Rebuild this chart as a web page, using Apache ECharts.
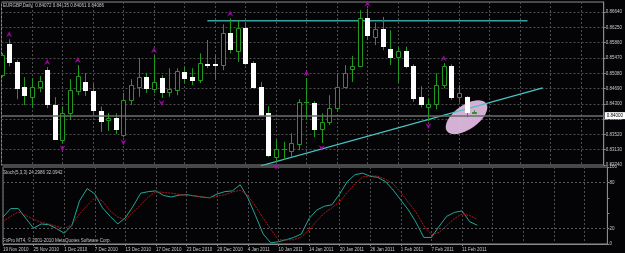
<!DOCTYPE html>
<html>
<head>
<meta charset="utf-8">
<script src="https://cdn.jsdelivr.net/npm/echarts@6/dist/echarts.min.js"></script>
<style>
html,body{margin:0;padding:0;background:#040406;}
#chart{width:625px;height:253px;}
</style>
</head>
<body>
<div id="chart"></div>
<script>
// EURGBP daily, 19 Nov 2010 - 15 Feb 2011
var dates = ['19 Nov 2010','22 Nov 2010','23 Nov 2010','24 Nov 2010','25 Nov 2010','26 Nov 2010',
  '29 Nov 2010','30 Nov 2010','1 Dec 2010','2 Dec 2010','3 Dec 2010',
  '6 Dec 2010','7 Dec 2010','8 Dec 2010','9 Dec 2010','10 Dec 2010',
  '13 Dec 2010','14 Dec 2010','15 Dec 2010','16 Dec 2010','17 Dec 2010',
  '20 Dec 2010','21 Dec 2010','22 Dec 2010','23 Dec 2010','24 Dec 2010',
  '27 Dec 2010','28 Dec 2010','29 Dec 2010','30 Dec 2010','31 Dec 2010',
  '3 Jan 2011','4 Jan 2011','5 Jan 2011','6 Jan 2011','7 Jan 2011',
  '10 Jan 2011','11 Jan 2011','12 Jan 2011','13 Jan 2011','14 Jan 2011',
  '17 Jan 2011','18 Jan 2011','19 Jan 2011','20 Jan 2011','21 Jan 2011',
  '24 Jan 2011','25 Jan 2011','26 Jan 2011','27 Jan 2011','28 Jan 2011',
  '31 Jan 2011','1 Feb 2011','2 Feb 2011','3 Feb 2011','4 Feb 2011',
  '7 Feb 2011','8 Feb 2011','9 Feb 2011','10 Feb 2011','11 Feb 2011',
  '14 Feb 2011','15 Feb 2011'];

var opens = [0.8503,0.8582,0.8537,0.8473,0.8448,0.8474,0.8516,0.8427,0.8338,0.8407,
  0.8463,0.8487,0.8463,0.8412,0.8389,0.8393,0.8351,0.8440,0.8474,0.8498,
  0.8467,0.8495,0.8460,0.8465,0.8512,0.8498,0.8491,0.8533,0.8531,0.8529,
  0.8612,0.8565,0.8624,0.8535,0.8472,0.8407,0.8294,0.8314,0.8311,0.8328,
  0.8434,0.8433,0.8365,0.8383,0.8419,0.8474,0.8518,0.8527,0.8648,0.8601,
  0.8621,0.8570,0.8549,0.8565,0.8527,0.8447,0.8421,0.8430,0.8478,0.8526,
  0.8447,0.8447,0.84072];
var closes = [0.8554,0.8537,0.8470,0.8452,0.8474,0.8488,0.8430,0.8340,0.8407,0.8465,
  0.8501,0.8465,0.8414,0.8387,0.8393,0.8365,0.8440,0.8478,0.8498,0.8470,
  0.8487,0.8461,0.8467,0.8514,0.8497,0.8491,0.8535,0.8530,0.8530,0.8612,
  0.8570,0.8624,0.8535,0.8474,0.8402,0.8300,0.8314,0.8315,0.8329,0.8435,
  0.8435,0.8365,0.8383,0.8419,0.8474,0.8509,0.8527,0.8648,0.8605,0.8621,
  0.8578,0.8549,0.8565,0.8527,0.8446,0.8430,0.8430,0.8478,0.8526,0.8447,
  0.8459,0.8408,0.84086];
var lows = [0.8498,0.8526,0.8442,0.8427,0.8419,0.8460,0.8419,0.8338,0.8330,0.8389,
  0.8452,0.8450,0.8402,0.8358,0.8361,0.8353,0.8345,0.8427,0.8448,0.8458,
  0.8458,0.8445,0.8448,0.8452,0.8483,0.8478,0.8483,0.8521,0.8491,0.8516,
  0.8559,0.8537,0.8529,0.8470,0.8399,0.8294,0.8282,0.8287,0.8294,0.8312,
  0.8391,0.8345,0.8330,0.8376,0.8410,0.8470,0.8486,0.8525,0.8593,0.8580,
  0.8567,0.8529,0.8486,0.8521,0.8435,0.8421,0.8386,0.8416,0.8470,0.8440,
  0.8435,0.8396,0.84061];
var highs = [0.8560,0.8595,0.8542,0.8498,0.8496,0.8501,0.8524,0.8447,0.8422,0.8493,
  0.8529,0.8509,0.8481,0.8423,0.8407,0.8406,0.8458,0.8493,0.8547,0.8509,
  0.8554,0.8503,0.8521,0.8521,0.8525,0.8521,0.8559,0.8593,0.8554,0.8633,
  0.8648,0.8643,0.8637,0.8539,0.8486,0.8424,0.8340,0.8333,0.8355,0.8442,
  0.8496,0.8437,0.8406,0.8452,0.8508,0.8529,0.8552,0.8669,0.8673,0.8637,
  0.8652,0.8618,0.8576,0.8576,0.8531,0.8475,0.8444,0.8508,0.8534,0.8531,
  0.8478,0.8450,0.84135];

// bar indexes carrying a fractal arrow
var upFractals = [1, 6, 10, 20, 30, 40, 48, 58];
var downFractals = [8, 16, 21, 36, 42, 56];

// Stoch(5,3,3)
var stochMain = [35,46,46,33,20.6,26,25,20,14,24,
  56,72,65,47,36,26,34,49,66,68,
  69,63,61,63.5,64,62.5,61,60,65,68,
  69,77,60,37,13,1.5,3,5.5,8.5,13,
  33,44,49,51,65,81,90,92,88,86.5,
  81,70,57,44,28,8.5,8.5,23,36,41,
  43,29,24.3];
var stochSignal = [29,36,41.7,37,32,28,26,23,20,25,
  39,50,60,56,43,35,31.6,41,51,61,
  68,67,66,64.5,63.5,62.5,61,60,62,64,
  67.5,70,63,49,33.7,19,5.5,5.3,5.5,9,
  18,30,40,47,55,67,78,87,88.5,88,
  84,78,67,54,41,24,12,15,24,33,
  39,37,32.1];
var stochLevels = [20, 80];

// hand drawn objects: [bar index, price]
var resistLine = [[27, 0.8642], [69, 0.8642]];
var trendLine = [[34, 0.8272], [71, 0.8471]];
var ellipseAt = [60.7, 0.8396];

var axisLen = 80; // chart shift: empty slots on the right
var cats = dates.slice();
while (cats.length < axisLen) cats.push('');

var GREEN = '#1f9a1f';
var GRID = '#4e4e4e';
var TXT = '#c8c8c8';
var FONT = 'Liberation Sans';

function everyFour(i) { return i % 4 === 0; }
function dateLabel(i) { return i % 4 === 0 && i < dates.length; }

var candles = opens.map(function (o, i) { return [i, o, closes[i], lows[i], highs[i]]; });

function renderCandle(params, api) {
    var i = api.value(0);
    var o = api.value(1), c = api.value(2);
    var pO = api.coord([i, o]), pC = api.coord([i, c]);
    var pL = api.coord([i, api.value(3)]), pH = api.coord([i, api.value(4)]);
    var px = Math.round(pO[0]);
    var top = Math.round(Math.min(pO[1], pC[1])), bot = Math.round(Math.max(pO[1], pC[1]));
    var kids = [{type: 'line', shape: {x1: px + 0.5, y1: pH[1], x2: px + 0.5, y2: pL[1]},
        style: {stroke: GREEN, lineWidth: 1}}];
    if (bot - top < 1) {
        kids.push({type: 'line', shape: {x1: px - 2, y1: top + 0.5, x2: px + 3, y2: top + 0.5},
            style: {stroke: GREEN, lineWidth: 1}});
    } else if (c > o) {
        kids.push({type: 'rect', shape: {x: px - 1.5, y: top + 0.5, width: 4, height: bot - top},
            style: {fill: '#000', stroke: GREEN, lineWidth: 1}});
    } else {
        kids.push({type: 'rect', shape: {x: px - 2, y: top, width: 5, height: bot - top + 1},
            style: {fill: '#fff'}});
    }
    return {type: 'group', children: kids};
}

var arrow = 'path://M5,0 L10,9 L5,6 L0,9 Z';

var chart = echarts.init(document.getElementById('chart'));
chart.setOption({
    animation: false,
    backgroundColor: '#040406',
    textStyle: {fontFamily: FONT},
    grid: [
        {left: 1.5, top: 2, width: 605.9, height: 163, show: true, borderColor: '#8a8a8a', borderWidth: 1},
        {left: 1.5, top: 167, width: 605.9, height: 77, show: true, borderColor: '#8a8a8a', borderWidth: 1}
    ],
    xAxis: [
        {type: 'category', gridIndex: 0, data: cats, boundaryGap: false,
            axisLine: {show: false}, axisTick: {show: false}, axisLabel: {show: false},
            splitLine: {show: true, interval: everyFour, lineStyle: {color: GRID, type: [2, 2]}}},
        {type: 'category', gridIndex: 1, data: cats, boundaryGap: false,
            axisLine: {lineStyle: {color: '#8a8a8a'}},
            axisTick: {show: true, interval: dateLabel, length: 2, lineStyle: {color: '#8a8a8a'}},
            axisLabel: {interval: dateLabel, align: 'left', fontSize: 4.5, color: TXT, margin: 3, fontFamily: FONT},
            splitLine: {show: true, interval: everyFour, lineStyle: {color: GRID, type: [2, 2]}}}
    ],
    yAxis: [
        {type: 'value', gridIndex: 0, position: 'right', min: 0.8274, max: 0.869, interval: 0.0039,
            axisLine: {show: true, lineStyle: {color: '#8a8a8a'}},
            axisTick: {show: true, length: 2, lineStyle: {color: '#8a8a8a'}},
            axisLabel: {showMaxLabel: false, fontSize: 4.5, color: TXT, margin: 2, fontFamily: FONT,
                formatter: function (v) { return v.toFixed(5); }},
            splitLine: {show: true, lineStyle: {color: GRID, type: [2, 2]}}},
        {type: 'value', gridIndex: 1, position: 'right', min: 0, max: 100, interval: 20,
            axisLine: {show: true, lineStyle: {color: '#8a8a8a'}},
            axisTick: {show: true, length: 2, lineStyle: {color: '#8a8a8a'}},
            axisLabel: {showMaxLabel: true, showMinLabel: true, fontSize: 4.5, color: TXT, margin: 2, fontFamily: FONT,
                formatter: function (v) { return (v === 40 || v === 60) ? '' : String(v); }},
            splitLine: {show: false}}
    ],
    series: [
        {type: 'custom', name: 'EURGBP', xAxisIndex: 0, yAxisIndex: 0, data: candles,
            renderItem: renderCandle, clip: true, z: 3,
            encode: {x: 0, y: [1, 2, 3, 4]},
            markLine: {silent: true, symbol: 'none',
                lineStyle: {color: '#6c6c6c', type: 'solid', width: 1.5},
                label: {position: 'end', distance: 1, fontSize: 4.5, color: '#000', backgroundColor: '#fff',
                    padding: [1, 2], fontFamily: FONT,
                    formatter: function (p) { return p.value.toFixed(5); }},
                data: [{yAxis: closes[closes.length - 1]}]}},
        {type: 'line', xAxisIndex: 0, yAxisIndex: 0, data: resistLine, symbol: 'none', silent: true,
            lineStyle: {color: '#35a2a2', width: 1.5}, z: 2},
        {type: 'line', xAxisIndex: 0, yAxisIndex: 0, data: trendLine, symbol: 'none', silent: true,
            lineStyle: {color: '#46c6c6', width: 1.3}, z: 2},
        {type: 'scatter', xAxisIndex: 0, yAxisIndex: 0, silent: true, symbol: arrow, symbolSize: [6, 6],
            symbolOffset: [0, -5], itemStyle: {color: '#c000c0'},
            data: upFractals.map(function (i) { return [i, highs[i]]; })},
        {type: 'scatter', xAxisIndex: 0, yAxisIndex: 0, silent: true, symbol: arrow, symbolSize: [6, 6],
            symbolRotate: 180, symbolOffset: [0, 5], itemStyle: {color: '#c000c0'},
            data: downFractals.map(function (i) { return [i, lows[i]]; })},
        {type: 'line', xAxisIndex: 1, yAxisIndex: 1, data: stochMain, symbol: 'none', silent: true,
            lineStyle: {color: '#20a898', width: 1},
            markLine: {silent: true, symbol: 'none', label: {show: false},
                lineStyle: {color: '#5a5a5a', type: [2, 2], width: 1},
                data: stochLevels.map(function (v) { return {yAxis: v}; })}},
        {type: 'line', xAxisIndex: 1, yAxisIndex: 1, data: stochSignal, symbol: 'none', silent: true,
            lineStyle: {color: '#b01818', width: 1, type: [2, 1]}}
    ],
    graphic: {elements: [
        {type: 'text', id: 'title', left: 3, top: 3, silent: true,
            style: {text: 'EURGBP,Daily  0.84072 0.84135 0.84061 0.84086', fill: TXT, fontSize: 4.5, fontFamily: FONT}},
        {type: 'text', id: 'stoch', left: 3, top: 170, silent: true,
            style: {text: 'Stoch(5,3,3) 24.2986 32.0942', fill: TXT, fontSize: 4.5, fontFamily: FONT}},
        {type: 'text', id: 'copy', left: 3, top: 238, silent: true,
            style: {text: 'FxPro MT4, \u00a9 2001-2010 MetaQuotes Software Corp.', fill: TXT, fontSize: 4.5, fontFamily: FONT}}
    ]}
});

// pink highlight ellipse, anchored on the chart's data coordinates
var c = chart.convertToPixel({xAxisIndex: 0, yAxisIndex: 0}, ellipseAt);
chart.setOption({graphic: {elements: [
    {type: 'circle', id: 'mark', x: c[0], y: c[1], rotation: 35 * Math.PI / 180, scaleY: 0.5, z: 1,
        silent: true, shape: {cx: 0, cy: 0, r: 24}, style: {fill: '#e6bfe6', opacity: 0.92}}
]}});
</script>
</body>
</html>
